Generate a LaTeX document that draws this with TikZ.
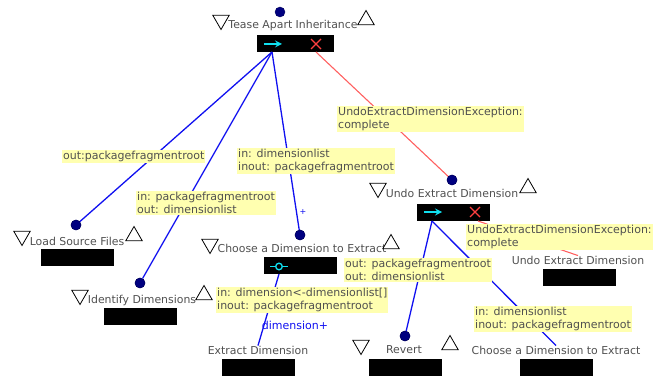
\documentclass[tikz,border=0pt]{standalone}
\usepackage{fontspec}
\setmainfont{DejaVu Sans}
\usetikzlibrary{shapes.geometric}
\definecolor{navyd}{HTML}{000080}
\definecolor{lbly}{HTML}{FFFFB0}
\definecolor{txtg}{HTML}{505050}
\definecolor{lnblue}{HTML}{1010F0}
\definecolor{lnred}{HTML}{FF6060}
\definecolor{arcyan}{HTML}{10E0F0}
\definecolor{xred}{HTML}{FF4040}
\tikzset{
  txt/.style={font=\fontsize{10.9}{12}\selectfont, text=txtg, inner sep=0pt},
  lbl/.style={fill=lbly, text=txtg, font=\fontsize{11}{13.3}\selectfont, align=left, inner sep=1pt},
  blk/.style={fill=black, minimum width=73pt, minimum height=17pt, inner sep=0pt},
  dotn/.style={circle, fill=navyd, draw=navyd!70!black, minimum size=10pt, inner sep=0pt},
  tdn/.style={regular polygon, regular polygon sides=3, shape border rotate=180, draw=black, fill=white, minimum size=19pt, inner sep=0pt, line width=0.8pt},
  tup/.style={regular polygon, regular polygon sides=3, draw=black, fill=white, minimum size=19pt, inner sep=0pt, line width=0.8pt},
  bl/.style={draw=lnblue, line width=1.3pt},
  rl/.style={draw=lnred, line width=1.1pt},
  cyarr/.style={draw=arcyan, line width=2pt, -stealth},
  redx/.style={draw=xred, line width=1.2pt},
}
\begin{document}
\begin{tikzpicture}[x=1pt,y=-1pt]
\useasboundingbox (0,0) rectangle (656,379);
% ---- Tease Apart Inheritance
\node[dotn] (dA) at (280,12) {};
\node[tdn] (tA1) at (221,20) {};
\node[txt] (nA) at (293,25) {Tease Apart Inheritance};
\node[tup] (tA2) at (366,20) {};
\node[blk, minimum width=77pt] (bA) at (295.5,43.5) {};
\coordinate (bAo) at (272,52);
\coordinate (bAx) at (316,52);
\draw[cyarr] (264,44) -- (282,44);
\draw[redx] (311,39) -- (321,49) (311,49) -- (321,39);
% ---- Load Source Files
\node[dotn] (dL) at (76,225) {};
\node[tdn] (tL1) at (22,236) {};
\node[txt] (nL) at (77,241) {Load Source Files};
\node[tup] (tL2) at (134,236) {};
\node[blk] (bL) at (77,258) {};
% ---- Identify Dimensions
\node[dotn] (dI) at (140,283) {};
\node[tdn] (tI1) at (80,295) {};
\node[txt] (nI) at (142,300) {Identify Dimensions};
\node[tup] (tI2) at (204,295) {};
\node[blk] (bI) at (140.5,317) {};
% ---- Choose a Dimension to Extract
\node[dotn] (dC) at (300,235) {};
\node[tdn] (tC1) at (210,244) {};
\node[txt] (nC) at (302,248) {Choose a Dimension to Extract};
\node[tup] (tC2) at (391,244) {};
\node[blk] (bC) at (300.5,266) {};
\coordinate (bCo) at (279,274);
\draw[draw=arcyan, line width=1.3pt] (270,266.5) -- (288,266.5);
\draw[draw=arcyan, line width=1.3pt, fill=black] (279,266.5) circle (3.3pt);
% ---- Extract Dimension
\node[txt] (nE) at (258,350) {Extract Dimension};
\node[blk] (bE) at (258.5,367) {};
% ---- Undo Extract Dimension (middle)
\node[dotn] (dU) at (452,180) {};
\node[tdn] (tU1) at (378,188) {};
\node[txt] (nU) at (452,193) {Undo Extract Dimension};
\node[tup] (tU2) at (528,188) {};
\node[blk] (bU) at (453.5,212.5) {};
\coordinate (bUo) at (432,221);
\coordinate (bUx) at (478,221);
\draw[cyarr] (424,212) -- (442,212);
\draw[redx] (470,207) -- (480,217) (470,217) -- (480,207);
% ---- Revert
\node[dotn] (dR) at (405,336) {};
\node[tdn] (tR1) at (361,345) {};
\node[txt] (nR) at (404,350) {Revert};
\node[tup] (tR2) at (450,345) {};
\node[blk] (bR) at (405,367) {};
% ---- Choose a Dimension to Extract (right)
\node[txt] (nC2) at (556,350) {Choose a Dimension to Extract};
\node[blk] (bC2) at (556,367) {};
% ---- Undo Extract Dimension (right)
\node[txt] (nU2) at (578,260) {Undo Extract Dimension};
\node[blk] (bU2) at (579.5,278) {};
% ---- connectors
\draw[bl] (bAo) -- (dL);
\draw[bl] (bAo) -- (dI);
\draw[bl] (bAo) -- (dC);
\draw[rl] (bAx) -- (dU);
\draw[bl] (bCo) -- (nE.north);
\draw[bl] (bUo) -- (dR);
\draw[bl] (bUo) -- (nC2.north);
\draw[rl] (bUx) -- (nU2.north);
\node[dotn] at (dL) {};
\node[dotn] at (dI) {};
\node[dotn] at (dC) {};
\node[dotn] at (dU) {};
\node[dotn] at (dR) {};
% ---- labels
\node[lbl, anchor=north west] (l1) at (62,150) {out:packagefragmentroot};
\node[lbl, anchor=north west] (l2) at (136,191) {in: packagefragmentroot\\out: dimensionlist};
\node[lbl, anchor=north west] (l3) at (237,148) {in: dimensionlist\\inout: packagefragmentroot};
\node[text=lnblue, font=\fontsize{8}{9}\selectfont, inner sep=0pt] (l3p) at (303,212) {+};
\node[lbl, anchor=north west] (l4) at (337,106) {UndoExtractDimensionException:\\complete};
\node[lbl, anchor=north west] (l5) at (216,287) {in: dimension<-dimensionlist[]\\inout: packagefragmentroot};
\node[text=lnblue, font=\fontsize{11}{12}\selectfont, inner sep=0pt] (l5p) at (295,325) {dimension+};
\node[lbl, anchor=north west] (l6) at (466,224) {UndoExtractDimensionException:\\complete};
\node[lbl, anchor=north west] (l7) at (344,258) {out: packagefragmentroot\\out: dimensionlist};
\node[lbl, anchor=north west] (l8) at (474,306) {in: dimensionlist\\inout: packagefragmentroot};
\end{tikzpicture}
\end{document}
